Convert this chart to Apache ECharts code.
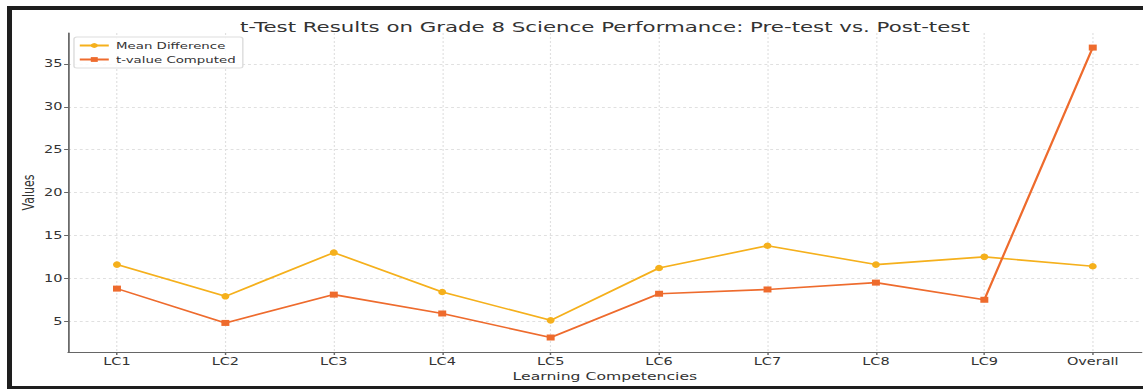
<!DOCTYPE html>
<html>
<head>
<meta charset="utf-8">
<script src="https://cdn.jsdelivr.net/npm/echarts@6/dist/echarts.min.js"></script>
<style>
	html, body { margin: 0; padding: 0; background: #fff; overflow: hidden; }
	/* the reference picture is stretched sideways, so the chart is drawn narrow and widened */
	#chartDiv { width: 788px; height: 389px; transform: scaleX(1.4505); transform-origin: 0 0; }
</style>
</head>
<body>
<div id="chartDiv"></div>
<script>
var categories = ['LC1', 'LC2', 'LC3', 'LC4', 'LC5', 'LC6', 'LC7', 'LC8', 'LC9', 'Overall'];
var meanDiff = [11.6, 7.9, 13.0, 8.4, 5.1, 11.2, 13.8, 11.6, 12.5, 11.4];
var tValue = [8.8, 4.8, 8.1, 5.9, 3.1, 8.2, 8.7, 9.5, 7.5, 36.9];
var yTicks = [5, 10, 15, 20, 25, 30, 35];

var chart;

function toPoints(arr) {
	return arr.map(function (v, i) { return [i, v]; });
}

function showChart() {
	var el = document.getElementById('chartDiv');
	if (!chart)
		chart = echarts.init(el, null, { renderer: 'svg' });

	var font = 'DejaVu Sans';
	var xIdx = categories.map(function (c, i) { return i; });
	var frame = '#1e1e1e';

	var option = {
		animation: false,
		title: {
			text: 't-Test Results on Grade 8 Science Performance: Pre-test vs. Post-test',
			left: 412,
			textAlign: 'center',
			top: 14,
			textStyle: { fontFamily: font, fontSize: 14.7, fontWeight: 'normal', color: '#333' }
		},
		legend: {
			orient: 'vertical',
			left: 51,
			top: 37,
			padding: [3, 5, 3, 3],
			itemGap: 3,
			itemWidth: 20,
			itemHeight: 6,
			borderColor: '#ddd',
			borderWidth: 1,
			borderRadius: 2,
			backgroundColor: 'rgba(255,255,255,0.85)',
			textStyle: { fontFamily: font, fontSize: 9.2, color: '#333', lineHeight: 11 },
			data: ['Mean Difference', 't-value Computed']
		},
		grid: { left: 47, right: 1, top: 33, bottom: 37 },
		xAxis: {
			type: 'value',
			min: -0.45,
			max: 9.45,
			name: 'Learning Competencies',
			nameLocation: 'middle',
			nameGap: 12,
			nameTextStyle: { fontFamily: font, fontSize: 10.8, color: '#333' },
			axisLine: { onZero: false, lineStyle: { color: '#666', width: 1.2 } },
			axisTick: { customValues: xIdx, length: 3, lineStyle: { color: '#666' } },
			axisLabel: {
				customValues: xIdx,
				margin: 4,
				fontFamily: font,
				fontSize: 10,
				color: '#333',
				formatter: function (v) { return categories[Math.round(v)]; }
			},
			splitLine: { show: true, lineStyle: { color: '#e0e0e0', type: [2, 2], width: 0.8 } }
		},
		yAxis: {
			type: 'value',
			min: 1.41,
			max: 38.6,
			name: 'Values',
			nameLocation: 'middle',
			nameGap: 22,
			nameMoveOverlap: false,
			nameTextStyle: { fontFamily: font, fontSize: 11, color: '#333' },
			axisLine: { show: true, onZero: false, lineStyle: { color: '#666', width: 1.2 } },
			axisTick: { show: true, customValues: yTicks, length: 2.8, lineStyle: { color: '#666' } },
			axisLabel: { customValues: yTicks, margin: 4, fontFamily: font, fontSize: 10, color: '#333' },
			splitLine: { show: true, lineStyle: { color: '#e0e0e0', type: [2, 2], width: 1 } }
		},
		graphic: [
			{ type: 'rect', shape: { x: 4.83, y: 6, width: 790, height: 4 }, style: { fill: frame } },
			{ type: 'rect', shape: { x: 4.83, y: 6, width: 3.45, height: 383 }, style: { fill: frame } },
			{ type: 'rect', shape: { x: 4.83, y: 386, width: 790, height: 3 }, style: { fill: frame } }
		],
		series: [
			{
				name: 'Mean Difference',
				type: 'line',
				data: toPoints(meanDiff),
				symbol: 'circle',
				symbolSize: [5.5, 6.5],
				lineStyle: { color: '#f5b01c', width: 1.6 },
				itemStyle: { color: '#f5b01c' }
			},
			{
				name: 't-value Computed',
				type: 'line',
				data: toPoints(tValue),
				symbol: 'rect',
				symbolSize: [5.5, 6],
				lineStyle: { color: '#ee6b2d', width: 1.6 },
				itemStyle: { color: '#ee6b2d' }
			}
		]
	};

	chart.setOption(option, true);
}

showChart();
</script>
</body>
</html>
